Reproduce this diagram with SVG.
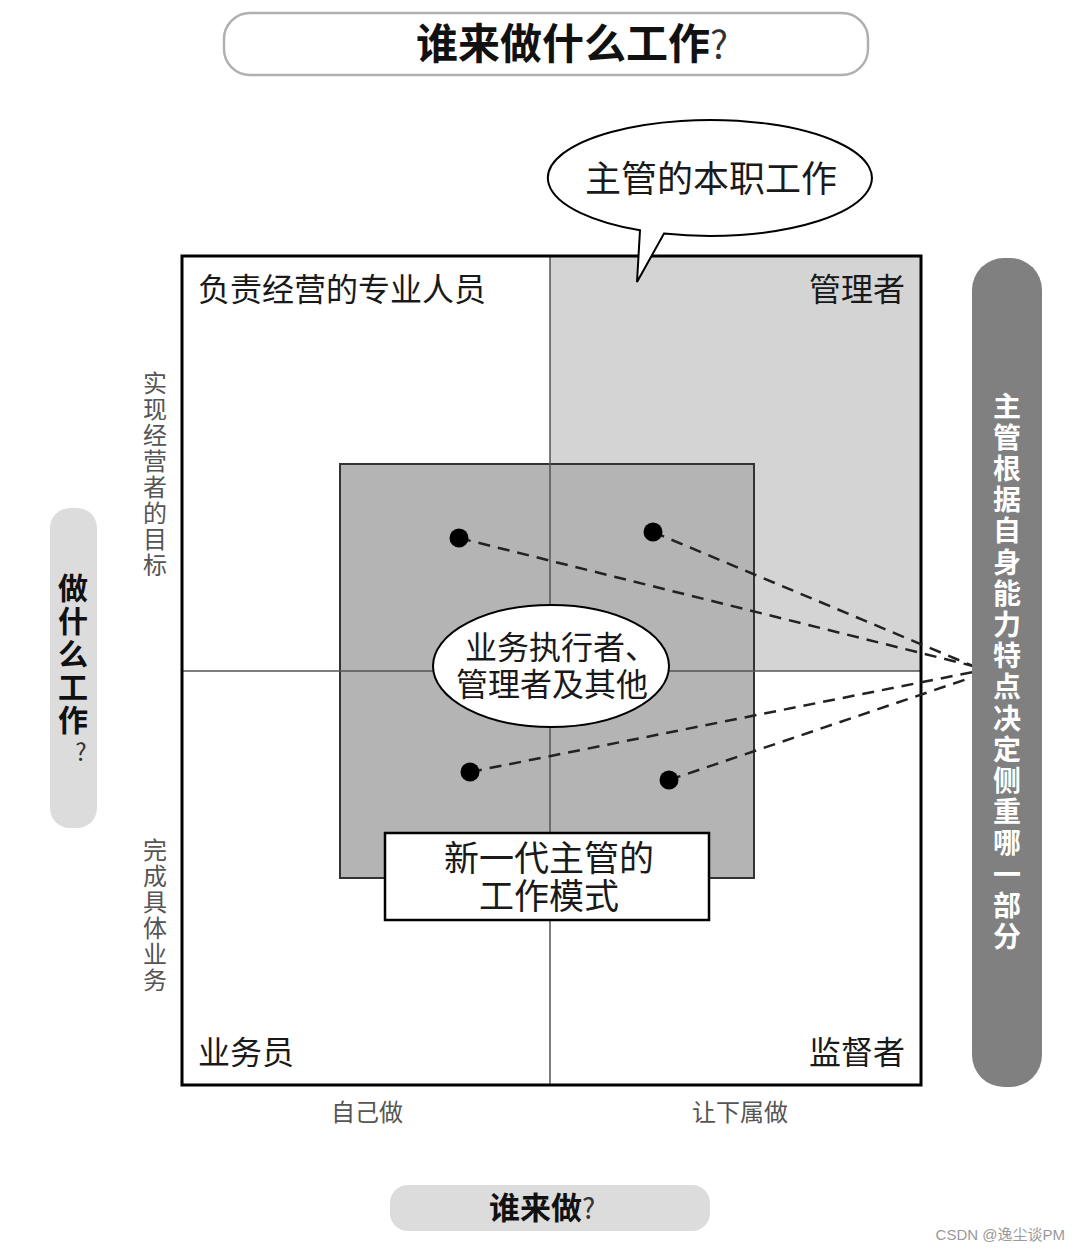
<svg xmlns="http://www.w3.org/2000/svg" width="1080" height="1251" viewBox="0 0 1080 1251">
<style>
  .cjk { font-family: "Noto Sans CJK SC", "Noto Sans", sans-serif; }
  .lbl { font-size: 32px; fill: #1a1a1a; }
  .axis { font-size: 24px; fill: #555; }
  .bold { font-weight: bold; fill: #111; }
  .white { font-weight: bold; fill: #fff; font-size: 28px; }
  .vert { writing-mode: vertical-rl; }
  .mid { stroke: #555; stroke-width: 1.5; fill: none; }
  .dash { stroke: #222; stroke-width: 2.5; stroke-dasharray: 12 8; fill: none; }
  .dot { fill: #000; }
</style>
<rect width="1080" height="1251" fill="#fff"/>

<g id="title">
  <rect x="224" y="13" width="644" height="62" rx="26" fill="#fff" stroke="#b0b0b0" stroke-width="2.5"/>
  <text class="cjk bold" x="416" y="59" font-size="42">谁来做什么工作<tspan font-weight="normal" fill="#333" font-size="38">?</tspan></text>
</g>

<g id="matrix">
  <rect x="182" y="256" width="739" height="829" fill="#fff"/>
  <rect x="550" y="256" width="371" height="415" fill="#d4d4d4"/>
  <rect x="340" y="464" width="414" height="414" fill="#b4b4b4" stroke="#333" stroke-width="2"/>
  <line class="mid" x1="550" y1="256" x2="550" y2="1085"/>
  <line class="mid" x1="182" y1="671" x2="921" y2="671"/>
  <rect x="182" y="256" width="739" height="829" fill="none" stroke="#000" stroke-width="3"/>
</g>

<g id="quadrant-labels" class="cjk lbl">
  <text id="q-tl" x="198" y="301">负责经营的专业人员</text>
  <text id="q-tr" x="905" y="301" text-anchor="end">管理者</text>
  <text id="q-bl" x="198" y="1064">业务员</text>
  <text id="q-br" x="905" y="1064" text-anchor="end">监督者</text>
</g>

<g id="axis-labels" class="cjk axis">
  <text x="367" y="1121" text-anchor="middle">自己做</text>
  <text x="740" y="1121" text-anchor="middle">让下属做</text>
  <text class="vert" x="155" y="371" letter-spacing="2">实现经营者的目标</text>
  <text class="vert" x="155" y="838" letter-spacing="2">完成具体业务</text>
</g>

<g id="connectors">
  <line class="dash" x1="459" y1="538" x2="973" y2="666"/>
  <line class="dash" x1="653" y1="532" x2="973" y2="666"/>
  <line class="dash" x1="470" y1="772" x2="973" y2="672"/>
  <line class="dash" x1="669" y1="780" x2="973" y2="677"/>
</g>

<g id="dots">
  <circle class="dot" cx="459" cy="538" r="9.5"/>
  <circle class="dot" cx="653" cy="532" r="9.5"/>
  <circle class="dot" cx="470" cy="772" r="9.5"/>
  <circle class="dot" cx="669" cy="780" r="9.5"/>
</g>

<g id="center-ellipse">
  <ellipse cx="551" cy="666" rx="118" ry="61" fill="#fff" stroke="#000" stroke-width="2"/>
  <text class="cjk lbl" text-anchor="middle"><tspan x="561" y="659">业务执行者、</tspan><tspan x="552" y="696">管理者及其他</tspan></text>
</g>

<g id="new-mode">
  <rect x="385" y="833" width="324" height="87" fill="#fff" stroke="#000" stroke-width="2.5"/>
  <text class="cjk lbl" text-anchor="middle" style="font-size:35px"><tspan x="549" y="871">新一代主管的</tspan><tspan x="549" y="909">工作模式</tspan></text>
</g>

<g id="speech-bubble">
  <path d="M 664 233.6 A 162 58 0 1 0 640 230.3 L 637 282 Z" fill="#fff" stroke="#000" stroke-width="2" stroke-linejoin="miter"/>
  <text class="cjk lbl" x="711" y="192" text-anchor="middle" style="font-size:36px">主管的本职工作</text>
</g>

<g id="left-label">
  <rect x="50" y="508" width="47" height="320" rx="20" fill="#dcdcdc"/>
  <text class="cjk bold vert" x="73" y="573" font-size="30" letter-spacing="3">做什么工作</text>
  <text class="cjk" x="81" y="761" font-size="24" fill="#333" text-anchor="middle">?</text>
</g>

<g id="right-label">
  <rect x="972" y="258" width="70" height="829" rx="32" fill="#808080"/>
  <text class="cjk white vert" x="1007" y="392" letter-spacing="3.2">主管根据自身能力特点决定侧重哪一部分</text>
</g>

<g id="bottom-label">
  <rect x="390" y="1185" width="320" height="46" rx="18" fill="#dcdcdc"/>
  <text class="cjk bold" x="489" y="1219" font-size="31">谁来做<tspan font-weight="normal" fill="#333" font-size="28">?</tspan></text>
</g>

<text id="watermark" x="1065" y="1240" text-anchor="end" font-family="'Liberation Sans', 'Noto Sans CJK SC', sans-serif" font-size="15" fill="#999">CSDN @逸尘谈PM</text>
</svg>
